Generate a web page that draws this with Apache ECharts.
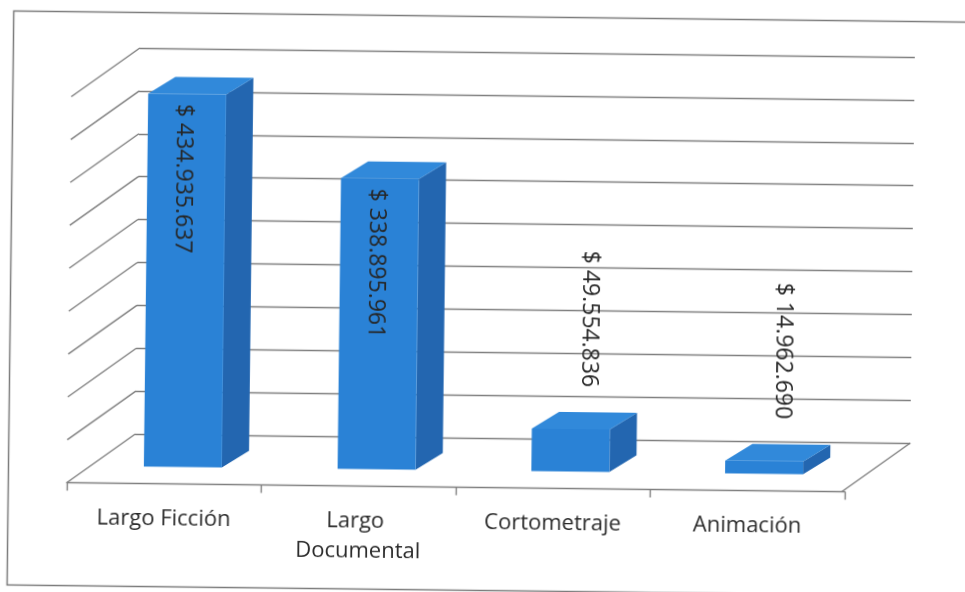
<!DOCTYPE html>
<html>
<head>
<meta charset="utf-8">
<script src="https://cdn.jsdelivr.net/npm/echarts@6/dist/echarts.min.js"></script>
<style>
  html, body { margin: 0; padding: 0; background: #ffffff; overflow: hidden; }
  #main { width: 965px; height: 592px; transform: rotate(0.67deg); transform-origin: 50% 50%; }
</style>
</head>
<body>
<div id="main"></div>
<script>
// ---- data ----
const categories = ['Largo Ficción', 'Largo Documental', 'Cortometraje', 'Animación'];
const values = [434935637, 338895961, 49554836, 14962690];
const yTicks = [0, 50000000, 100000000, 150000000, 200000000, 250000000, 300000000, 350000000, 400000000, 450000000];
const yMax = 450000000;
const yStep = 50000000;

// ---- style / geometry constants ----
const WALL_DX = -68, WALL_DY = 49.5;   // depth of floor / side wall
const BAR_DX = -49, BAR_DY = 32.5;     // front face of bars relative to back wall
const BAR_W = 78, BAR_DEPTH_X = 27, BAR_DEPTH_Y = -17;
const GRID_COLOR = '#808080';
const FRONT = '#2a82d6', TOP = '#3189da', SIDE = '#2366b0';
const FONT = 'Open Sans';

function fmtMoney(v) {
  const s = String(Math.round(v)).replace(/\B(?=(\d{3})+(?!\d))/g, '.');
  return '$ ' + s;
}

const chart = echarts.init(document.getElementById('main'), null, { renderer: 'canvas' });

const option = {
  backgroundColor: '#ffffff',
  animation: false,
  graphic: [{
    type: 'rect', left: 8, top: 14, silent: true,
    shape: { width: 1000, height: 574 },
    style: { fill: 'none', stroke: '#7c7c7c', lineWidth: 1.5 }
  }],
  grid: [
    { left: 137, top: 52, width: 775, height: 386 },
    { left: 69, top: 102, width: 778, height: 385.5 }
  ],
  xAxis: [
    { type: 'category', gridIndex: 0, data: categories, show: false },
    {
      type: 'category', gridIndex: 1, data: categories, boundaryGap: true,
      axisLine: { show: true, lineStyle: { color: GRID_COLOR, width: 1.4 } },
      axisTick: { show: true, length: 8, lineStyle: { color: GRID_COLOR, width: 1.4 } },
      axisLabel: {
        color: '#2b2b2b', fontSize: 22, fontFamily: FONT, margin: 20,
        lineHeight: 30, width: 150, overflow: 'break', interval: 0
      },
      splitLine: { show: false }
    }
  ],
  yAxis: [
    {
      type: 'value', gridIndex: 0, min: 0, max: yMax, interval: yStep,
      axisLine: { show: false }, axisTick: { show: false }, axisLabel: { show: false },
      splitLine: { show: true, lineStyle: { color: GRID_COLOR, width: 1.4 } }
    },
    {
      type: 'value', gridIndex: 1, min: 0, max: yMax, interval: yStep, show: false,
      splitLine: { show: false }
    }
  ],
  series: [
    {
      type: 'custom', name: 'walls', xAxisIndex: 0, yAxisIndex: 0, silent: true,
      data: yTicks.map(v => [0, v]),
      renderItem: function (params, api) {
        const cs = params.coordSys;
        const p = api.coord([0, api.value(1)]);
        const y = p[1];
        const children = [{
          type: 'line',
          shape: { x1: cs.x, y1: y, x2: cs.x + WALL_DX, y2: y + WALL_DY },
          style: { stroke: GRID_COLOR, lineWidth: 1.4 }
        }];
        if (api.value(1) === 0) {
          const xr = cs.x + cs.width;
          children.push({
            type: 'line',
            shape: { x1: xr, y1: y, x2: xr + WALL_DX, y2: y + WALL_DY },
            style: { stroke: GRID_COLOR, lineWidth: 1.4 }
          });
        }
        return { type: 'group', children: children };
      },
      z: 1
    },
    {
      type: 'custom', name: 'bars', xAxisIndex: 0, yAxisIndex: 0,
      data: values.map((v, i) => [i, v]),
      renderItem: function (params, api) {
        const i = api.value(0), v = api.value(1);
        const base = api.coord([i, 0]);
        const top = api.coord([i, v]);
        const cx = base[0] + BAR_DX;
        const yb = base[1] + BAR_DY;
        const yt = top[1] + BAR_DY;
        const x0 = cx - BAR_W / 2, x1 = cx + BAR_W / 2;
        const dx = BAR_DEPTH_X, dy = BAR_DEPTH_Y;
        const inside = (yb - yt) > 200;
        const txtStyle = { text: fmtMoney(v), fontSize: 23, fontFamily: FONT, fill: '#262626', verticalAlign: 'middle' };
        const label = inside
          ? { type: 'text', x: cx - 3, y: yt + 10, rotation: -Math.PI / 2,
              style: Object.assign({ align: 'left' }, txtStyle), z2: 10 }
          : { type: 'text', x: cx + 17, y: yt - 42, rotation: -Math.PI / 2,
              style: Object.assign({ align: 'right' }, txtStyle), z2: 10 };
        return {
          type: 'group',
          children: [
            { type: 'polygon', shape: { points: [[x1, yt], [x1 + dx, yt + dy], [x1 + dx, yb + dy], [x1, yb]] }, style: { fill: SIDE } },
            { type: 'polygon', shape: { points: [[x0, yt], [x1, yt], [x1 + dx, yt + dy], [x0 + dx, yt + dy]] }, style: { fill: TOP } },
            { type: 'rect', shape: { x: x0, y: yt, width: BAR_W, height: yb - yt }, style: { fill: FRONT } },
            label
          ]
        };
      },
      z: 5
    }
  ]
};

chart.setOption(option);
</script>
</body>
</html>
